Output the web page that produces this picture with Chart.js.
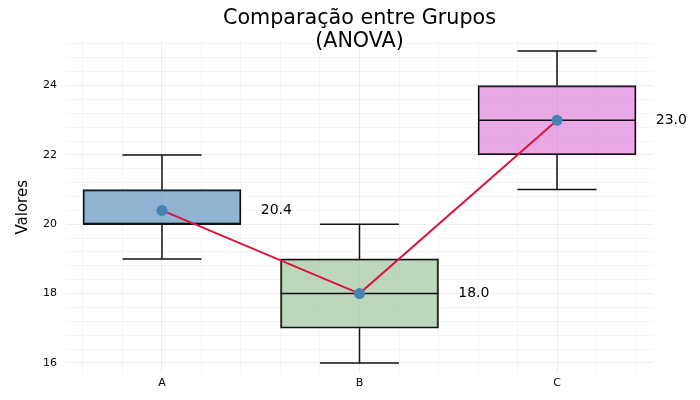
<!DOCTYPE html>
<html>
<head>
<meta charset="utf-8">
<script src="https://cdn.jsdelivr.net/npm/chart.js@4.4.1/dist/chart.umd.min.js"></script>
<style>
  html, body { margin: 0; padding: 0; background: #fff; }
  #wrap { width: 700px; height: 400px; }
</style>
</head>
<body>
<div id="wrap"><canvas id="chart"></canvas></div>
<script>
// Data
const groups = ['A', 'B', 'C'];
const groupPos = [0.5, 1.5, 2.5];
const whiskerLow = [19, 16, 21];
const q1 = [20, 17, 22];
const medians = [20, 18, 23];
const q3 = [21, 19, 24];
const whiskerHigh = [22, 20, 25];
const means = [20.4, 18.0, 23.0];
const yTickLabels = [16, 18, 20, 22, 24];

const boxColors = ['rgba(70,130,180,0.6)', 'rgba(143,188,143,0.6)', 'rgba(218,112,214,0.6)'];
const BOX_W = 0.8;  // box width, x units
const CAP_W = 0.4;  // whisker cap width

// minor grid: 5 divisions between major ticks
const yGrid = [];
for (let v = 16; v <= 25.2; v += 0.4) yGrid.push(Math.round(v * 10) / 10);
const xGrid = [];
for (let v = 0.1; v < 3; v += 0.2) xGrid.push(Math.round(v * 10) / 10);

const FONT = 'DejaVu Sans';

const isIn = (arr, v) => v !== undefined && arr.some(t => Math.abs(t - v) < 1e-6);
const gridColor = arr => ctx => (ctx.tick && isIn(arr, ctx.tick.value)) ? 'rgba(0,0,0,0.07)' : 'rgba(0,0,0,0.04)';

// whiskers + medians, drawn right after the boxes
const boxExtras = {
    id: 'boxExtras',
    afterDatasetDraw(chart, args) {
        if (args.index !== 0) return;
        const { ctx, scales: { x, y } } = chart;
        ctx.save();
        ctx.strokeStyle = '#111';
        ctx.lineWidth = 1.5;
        groups.forEach((g, i) => {
            const cx = x.getPixelForValue(groupPos[i]);
            const capL = x.getPixelForValue(groupPos[i] - CAP_W / 2);
            const capR = x.getPixelForValue(groupPos[i] + CAP_W / 2);
            const boxL = x.getPixelForValue(groupPos[i] - BOX_W / 2);
            const boxR = x.getPixelForValue(groupPos[i] + BOX_W / 2);
            ctx.beginPath();
            // lower whisker
            ctx.moveTo(cx, y.getPixelForValue(q1[i]));
            ctx.lineTo(cx, y.getPixelForValue(whiskerLow[i]));
            ctx.moveTo(capL, y.getPixelForValue(whiskerLow[i]));
            ctx.lineTo(capR, y.getPixelForValue(whiskerLow[i]));
            // upper whisker
            ctx.moveTo(cx, y.getPixelForValue(q3[i]));
            ctx.lineTo(cx, y.getPixelForValue(whiskerHigh[i]));
            ctx.moveTo(capL, y.getPixelForValue(whiskerHigh[i]));
            ctx.lineTo(capR, y.getPixelForValue(whiskerHigh[i]));
            // median
            ctx.moveTo(boxL, y.getPixelForValue(medians[i]));
            ctx.lineTo(boxR, y.getPixelForValue(medians[i]));
            ctx.stroke();
        });
        ctx.restore();
    },
    afterDatasetsDraw(chart) {
        const { ctx, scales: { x, y } } = chart;
        ctx.save();
        ctx.fillStyle = '#000';
        ctx.font = '14px ' + FONT;
        ctx.textAlign = 'left';
        ctx.textBaseline = 'middle';
        means.forEach((m, i) => {
            ctx.fillText(m.toFixed(1), x.getPixelForValue(groupPos[i] + 0.5), y.getPixelForValue(m));
        });
        ctx.restore();
    }
};

new Chart(document.getElementById('chart'), {
    data: {
        datasets: [{
            type: 'bar',
            data: groupPos.map((p, i) => ({ x: p, y: [q1[i], q3[i]] })),
            backgroundColor: boxColors,
            borderColor: '#111',
            borderWidth: 1.5,
            borderSkipped: false,
            barThickness: ctx => {
                const x = ctx.chart.scales.x;
                return x.getPixelForValue(BOX_W) - x.getPixelForValue(0);
            },
            order: 2
        }, {
            type: 'line',
            data: groupPos.map((p, i) => ({ x: p, y: means[i] })),
            borderColor: '#dc143c',
            borderWidth: 2,
            pointRadius: 5.5,
            pointBackgroundColor: '#4682b4',
            pointBorderWidth: 0,
            fill: false,
            order: 1
        }]
    },
    options: {
        responsive: true,
        maintainAspectRatio: false,
        animation: false,
        layout: { padding: { left: 0, right: 47, top: 0, bottom: 0 } },
        plugins: {
            legend: { display: false },
            tooltip: { enabled: false },
            title: {
                display: true,
                fullSize: false,
                text: ['Comparação entre Grupos', '(ANOVA)'],
                color: '#000',
                font: { family: FONT, size: 20.7, weight: 'normal', lineHeight: 1.1 },
                padding: { top: 7, bottom: -11 }
            }
        },
        scales: {
            x: {
                type: 'linear',
                offset: false,
                min: 0.014,
                max: 2.986,
                afterBuildTicks(scale) { scale.ticks = xGrid.map(v => ({ value: v })); },
                afterFit(scale) { scale.height = 27; },
                ticks: {
                    autoSkip: false,
                    maxRotation: 0,
                    padding: 4,
                    color: '#000',
                    font: { family: FONT, size: 11 },
                    callback(v) {
                        const i = groupPos.findIndex(p => Math.abs(p - v) < 1e-6);
                        return i >= 0 ? groups[i] : '';
                    }
                },
                grid: { drawTicks: false, offset: false, color: gridColor(groupPos) },
                border: { display: false }
            },
            y: {
                type: 'linear',
                min: 15.71,
                max: 25.27,
                afterBuildTicks(scale) { scale.ticks = yGrid.map(v => ({ value: v })); },
                afterFit(scale) { scale.width = 66; },
                ticks: {
                    autoSkip: false,
                    padding: 9,
                    color: '#000',
                    font: { family: FONT, size: 11 },
                    callback(v) { return isIn(yTickLabels, v) ? String(Math.round(v)) : ''; }
                },
                grid: { drawTicks: false, color: gridColor(yTickLabels) },
                border: { display: false },
                title: {
                    display: true,
                    text: 'Valores',
                    color: '#000',
                    font: { family: FONT, size: 15 },
                    padding: { top: 14, bottom: 0 }
                }
            }
        }
    },
    plugins: [boxExtras]
});
</script>
</body>
</html>
